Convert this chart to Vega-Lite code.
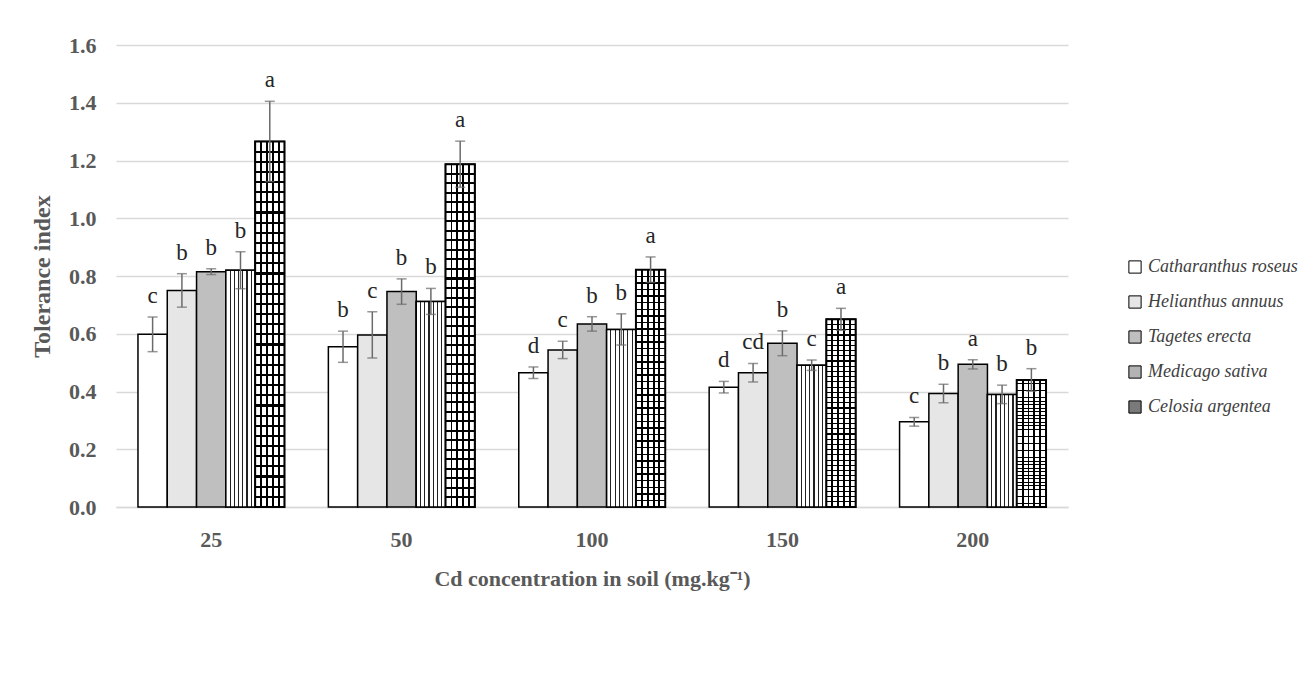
{
  "$schema": "https://vega.github.io/schema/vega-lite/v6.json",
  "width": 952,
  "height": 462,
  "autosize": {"type": "none"},
  "padding": {"left": 116, "top": 45, "right": 242, "bottom": 173},
  "background": "white",
  "config": {
    "view": {"stroke": null},
    "font": "Liberation Serif"
  },
  "data": {
    "values": [
      {"conc": "25", "species": "Catharanthus roseus", "mean": 0.598, "lo": 0.538, "hi": 0.658, "letter": "c"},
      {"conc": "25", "species": "Helianthus annuus", "mean": 0.75, "lo": 0.692, "hi": 0.808, "letter": "b"},
      {"conc": "25", "species": "Tagetes erecta", "mean": 0.815, "lo": 0.805, "hi": 0.825, "letter": "b"},
      {"conc": "25", "species": "Medicago sativa", "mean": 0.82, "lo": 0.756, "hi": 0.884, "letter": "b"},
      {"conc": "25", "species": "Celosia argentea", "mean": 1.266, "lo": 1.127, "hi": 1.405, "letter": "a"},
      {"conc": "50", "species": "Catharanthus roseus", "mean": 0.555, "lo": 0.501, "hi": 0.609, "letter": "b"},
      {"conc": "50", "species": "Helianthus annuus", "mean": 0.596, "lo": 0.516, "hi": 0.676, "letter": "c"},
      {"conc": "50", "species": "Tagetes erecta", "mean": 0.746, "lo": 0.702, "hi": 0.79, "letter": "b"},
      {"conc": "50", "species": "Medicago sativa", "mean": 0.712, "lo": 0.667, "hi": 0.757, "letter": "b"},
      {"conc": "50", "species": "Celosia argentea", "mean": 1.187, "lo": 1.107, "hi": 1.267, "letter": "a"},
      {"conc": "100", "species": "Catharanthus roseus", "mean": 0.465, "lo": 0.445, "hi": 0.485, "letter": "d"},
      {"conc": "100", "species": "Helianthus annuus", "mean": 0.544, "lo": 0.514, "hi": 0.574, "letter": "c"},
      {"conc": "100", "species": "Tagetes erecta", "mean": 0.634, "lo": 0.609, "hi": 0.659, "letter": "b"},
      {"conc": "100", "species": "Medicago sativa", "mean": 0.615, "lo": 0.561, "hi": 0.669, "letter": "b"},
      {"conc": "100", "species": "Celosia argentea", "mean": 0.822, "lo": 0.778, "hi": 0.866, "letter": "a"},
      {"conc": "150", "species": "Catharanthus roseus", "mean": 0.415, "lo": 0.395, "hi": 0.435, "letter": "d"},
      {"conc": "150", "species": "Helianthus annuus", "mean": 0.465, "lo": 0.433, "hi": 0.497, "letter": "cd"},
      {"conc": "150", "species": "Tagetes erecta", "mean": 0.567, "lo": 0.524, "hi": 0.61, "letter": "b"},
      {"conc": "150", "species": "Medicago sativa", "mean": 0.491, "lo": 0.473, "hi": 0.509, "letter": "c"},
      {"conc": "150", "species": "Celosia argentea", "mean": 0.65, "lo": 0.612, "hi": 0.688, "letter": "a"},
      {"conc": "200", "species": "Catharanthus roseus", "mean": 0.295, "lo": 0.28, "hi": 0.31, "letter": "c"},
      {"conc": "200", "species": "Helianthus annuus", "mean": 0.393, "lo": 0.361, "hi": 0.425, "letter": "b"},
      {"conc": "200", "species": "Tagetes erecta", "mean": 0.494, "lo": 0.478, "hi": 0.51, "letter": "a"},
      {"conc": "200", "species": "Medicago sativa", "mean": 0.39, "lo": 0.358, "hi": 0.422, "letter": "b"},
      {"conc": "200", "species": "Celosia argentea", "mean": 0.44, "lo": 0.401, "hi": 0.479, "letter": "b"}
    ]
  },
  "encoding": {
    "x": {
      "field": "conc", "type": "nominal", "sort": ["25", "50", "100", "150", "200"],
      "scale": {"paddingInner": 0, "paddingOuter": 0},
      "axis": {
        "title": "Cd concentration in soil (mg.kg⁻¹)",
        "labelAngle": 0, "labelFont": "Liberation Serif", "labelFontWeight": "bold", "labelFontSize": 22, "labelColor": "#595959",
        "labelPadding": 22, "ticks": false, "domainColor": "#d9d9d9", "domainWidth": 1.5,
        "titleFont": "Liberation Serif", "titleFontWeight": "bold", "titleFontSize": 22, "titleColor": "#595959", "titlePadding": 18
      }
    },
    "xOffset": {
      "field": "species", "type": "nominal",
      "scale": {"domain": ["Catharanthus roseus", "Helianthus annuus", "Tagetes erecta", "Medicago sativa", "Celosia argentea"], "paddingInner": 0, "paddingOuter": 0.75}
    }
  },
  "layer": [
    {
      "mark": {"type": "bar", "stroke": "black", "strokeWidth": 1.5},
      "encoding": {
        "y": {
          "field": "mean", "type": "quantitative",
          "scale": {"domain": [0, 1.6]},
          "axis": {
            "title": "Tolerance index", "values": [0, 0.2, 0.4, 0.6, 0.8, 1.0, 1.2, 1.4, 1.6], "format": ".1f",
            "labelFont": "Liberation Serif", "labelFontWeight": "bold", "labelFontSize": 22, "labelColor": "#595959", "labelPadding": 20,
            "ticks": false, "domain": false, "gridColor": "#d9d9d9", "gridWidth": 1.5,
            "titleFont": "Liberation Serif", "titleFontWeight": "bold", "titleFontSize": 24, "titleColor": "#595959", "titlePadding": 14
          }
        },
        "fill": {
          "field": "species", "type": "nominal",
          "scale": {"domain": ["Catharanthus roseus", "Helianthus annuus", "Tagetes erecta", "Medicago sativa", "Celosia argentea"], "range": ["#ffffff", "#e6e6e6", "#bfbfbf", "#b3b3b3", "#7a7a7a"]},
          "legend": {
            "title": null, "orient": "none", "legendX": 1010, "legendY": 213,
            "symbolType": "square", "symbolSize": 150, "symbolStrokeColor": "black", "symbolStrokeWidth": 1,
            "labelFont": "Liberation Serif", "labelFontStyle": "italic", "labelFontSize": 18, "labelColor": "#404040",
            "labelLimit": 300, "rowPadding": 17, "labelOffset": 4
          }
        }
      }
    },
    {
      "transform": [{"filter": "datum.species === 'Medicago sativa'"}],
      "mark": {
        "type": "bar", "stroke": "black", "strokeWidth": 1.5,
        "fill": {"gradient": "linear", "x1": 0, "y1": 0, "x2": 1, "y2": 0, "stops": [
          {"offset": 0, "color": "#ffffff"}, {"offset": 0.125, "color": "#ffffff"}, {"offset": 0.125, "color": "#222222"}, {"offset": 0.165, "color": "#222222"}, {"offset": 0.165, "color": "#ffffff"},
          {"offset": 0.27, "color": "#ffffff"}, {"offset": 0.27, "color": "#222222"}, {"offset": 0.31, "color": "#222222"}, {"offset": 0.31, "color": "#ffffff"},
          {"offset": 0.415, "color": "#ffffff"}, {"offset": 0.415, "color": "#222222"}, {"offset": 0.455, "color": "#222222"}, {"offset": 0.455, "color": "#ffffff"},
          {"offset": 0.56, "color": "#ffffff"}, {"offset": 0.56, "color": "#222222"}, {"offset": 0.6, "color": "#222222"}, {"offset": 0.6, "color": "#ffffff"},
          {"offset": 0.705, "color": "#ffffff"}, {"offset": 0.705, "color": "#222222"}, {"offset": 0.745, "color": "#222222"}, {"offset": 0.745, "color": "#ffffff"},
          {"offset": 0.85, "color": "#ffffff"}, {"offset": 0.85, "color": "#222222"}, {"offset": 0.89, "color": "#222222"}, {"offset": 0.89, "color": "#ffffff"},
          {"offset": 1, "color": "#ffffff"}
        ]}
      },
      "encoding": {"y": {"field": "mean", "type": "quantitative"}}
    },
    {
      "transform": [{"filter": "datum.species === 'Celosia argentea'"}],
      "mark": {
        "type": "bar", "strokeWidth": 0,
        "fill": {"gradient": "linear", "x1": 0, "y1": 0, "x2": 1, "y2": 0, "stops": [
          {"offset": 0, "color": "#ffffff"}, {"offset": 0.17, "color": "#ffffff"}, {"offset": 0.17, "color": "#000000"}, {"offset": 0.235, "color": "#000000"}, {"offset": 0.235, "color": "#ffffff"},
          {"offset": 0.37, "color": "#ffffff"}, {"offset": 0.37, "color": "#000000"}, {"offset": 0.435, "color": "#000000"}, {"offset": 0.435, "color": "#ffffff"},
          {"offset": 0.57, "color": "#ffffff"}, {"offset": 0.57, "color": "#000000"}, {"offset": 0.635, "color": "#000000"}, {"offset": 0.635, "color": "#ffffff"},
          {"offset": 0.77, "color": "#ffffff"}, {"offset": 0.77, "color": "#000000"}, {"offset": 0.835, "color": "#000000"}, {"offset": 0.835, "color": "#ffffff"},
          {"offset": 1, "color": "#ffffff"}
        ]}
      },
      "encoding": {"y": {"field": "mean", "type": "quantitative"}}
    },
    {
      "transform": [{"filter": "datum.species === 'Celosia argentea'"}],
      "mark": {
        "type": "bar", "stroke": "black", "strokeWidth": 2,
        "fill": {"gradient": "linear", "x1": 0, "y1": 0, "x2": 0, "y2": 1, "stops": [
          {"offset": 0.0248, "color": "rgba(0,0,0,0)"}, {"offset": 0.0248, "color": "#000"}, {"offset": 0.0308, "color": "#000"}, {"offset": 0.0308, "color": "rgba(0,0,0,0)"},
          {"offset": 0.0526, "color": "rgba(0,0,0,0)"}, {"offset": 0.0526, "color": "#000"}, {"offset": 0.0586, "color": "#000"}, {"offset": 0.0586, "color": "rgba(0,0,0,0)"},
          {"offset": 0.0803, "color": "rgba(0,0,0,0)"}, {"offset": 0.0803, "color": "#000"}, {"offset": 0.0863, "color": "#000"}, {"offset": 0.0863, "color": "rgba(0,0,0,0)"},
          {"offset": 0.1081, "color": "rgba(0,0,0,0)"}, {"offset": 0.1081, "color": "#000"}, {"offset": 0.1141, "color": "#000"}, {"offset": 0.1141, "color": "rgba(0,0,0,0)"},
          {"offset": 0.1359, "color": "rgba(0,0,0,0)"}, {"offset": 0.1359, "color": "#000"}, {"offset": 0.1419, "color": "#000"}, {"offset": 0.1419, "color": "rgba(0,0,0,0)"},
          {"offset": 0.1637, "color": "rgba(0,0,0,0)"}, {"offset": 0.1637, "color": "#000"}, {"offset": 0.1697, "color": "#000"}, {"offset": 0.1697, "color": "rgba(0,0,0,0)"},
          {"offset": 0.1914, "color": "rgba(0,0,0,0)"}, {"offset": 0.1914, "color": "#000"}, {"offset": 0.1974, "color": "#000"}, {"offset": 0.1974, "color": "rgba(0,0,0,0)"},
          {"offset": 0.2192, "color": "rgba(0,0,0,0)"}, {"offset": 0.2192, "color": "#000"}, {"offset": 0.2252, "color": "#000"}, {"offset": 0.2252, "color": "rgba(0,0,0,0)"},
          {"offset": 0.247, "color": "rgba(0,0,0,0)"}, {"offset": 0.247, "color": "#000"}, {"offset": 0.253, "color": "#000"}, {"offset": 0.253, "color": "rgba(0,0,0,0)"},
          {"offset": 0.2748, "color": "rgba(0,0,0,0)"}, {"offset": 0.2748, "color": "#000"}, {"offset": 0.2808, "color": "#000"}, {"offset": 0.2808, "color": "rgba(0,0,0,0)"},
          {"offset": 0.3026, "color": "rgba(0,0,0,0)"}, {"offset": 0.3026, "color": "#000"}, {"offset": 0.3086, "color": "#000"}, {"offset": 0.3086, "color": "rgba(0,0,0,0)"},
          {"offset": 0.3303, "color": "rgba(0,0,0,0)"}, {"offset": 0.3303, "color": "#000"}, {"offset": 0.3363, "color": "#000"}, {"offset": 0.3363, "color": "rgba(0,0,0,0)"},
          {"offset": 0.3581, "color": "rgba(0,0,0,0)"}, {"offset": 0.3581, "color": "#000"}, {"offset": 0.3641, "color": "#000"}, {"offset": 0.3641, "color": "rgba(0,0,0,0)"},
          {"offset": 0.3859, "color": "rgba(0,0,0,0)"}, {"offset": 0.3859, "color": "#000"}, {"offset": 0.3919, "color": "#000"}, {"offset": 0.3919, "color": "rgba(0,0,0,0)"},
          {"offset": 0.4137, "color": "rgba(0,0,0,0)"}, {"offset": 0.4137, "color": "#000"}, {"offset": 0.4197, "color": "#000"}, {"offset": 0.4197, "color": "rgba(0,0,0,0)"},
          {"offset": 0.4414, "color": "rgba(0,0,0,0)"}, {"offset": 0.4414, "color": "#000"}, {"offset": 0.4474, "color": "#000"}, {"offset": 0.4474, "color": "rgba(0,0,0,0)"},
          {"offset": 0.4692, "color": "rgba(0,0,0,0)"}, {"offset": 0.4692, "color": "#000"}, {"offset": 0.4752, "color": "#000"}, {"offset": 0.4752, "color": "rgba(0,0,0,0)"},
          {"offset": 0.497, "color": "rgba(0,0,0,0)"}, {"offset": 0.497, "color": "#000"}, {"offset": 0.503, "color": "#000"}, {"offset": 0.503, "color": "rgba(0,0,0,0)"},
          {"offset": 0.5248, "color": "rgba(0,0,0,0)"}, {"offset": 0.5248, "color": "#000"}, {"offset": 0.5308, "color": "#000"}, {"offset": 0.5308, "color": "rgba(0,0,0,0)"},
          {"offset": 0.5526, "color": "rgba(0,0,0,0)"}, {"offset": 0.5526, "color": "#000"}, {"offset": 0.5586, "color": "#000"}, {"offset": 0.5586, "color": "rgba(0,0,0,0)"},
          {"offset": 0.5803, "color": "rgba(0,0,0,0)"}, {"offset": 0.5803, "color": "#000"}, {"offset": 0.5863, "color": "#000"}, {"offset": 0.5863, "color": "rgba(0,0,0,0)"},
          {"offset": 0.6081, "color": "rgba(0,0,0,0)"}, {"offset": 0.6081, "color": "#000"}, {"offset": 0.6141, "color": "#000"}, {"offset": 0.6141, "color": "rgba(0,0,0,0)"},
          {"offset": 0.6359, "color": "rgba(0,0,0,0)"}, {"offset": 0.6359, "color": "#000"}, {"offset": 0.6419, "color": "#000"}, {"offset": 0.6419, "color": "rgba(0,0,0,0)"},
          {"offset": 0.6637, "color": "rgba(0,0,0,0)"}, {"offset": 0.6637, "color": "#000"}, {"offset": 0.6697, "color": "#000"}, {"offset": 0.6697, "color": "rgba(0,0,0,0)"},
          {"offset": 0.6914, "color": "rgba(0,0,0,0)"}, {"offset": 0.6914, "color": "#000"}, {"offset": 0.6974, "color": "#000"}, {"offset": 0.6974, "color": "rgba(0,0,0,0)"},
          {"offset": 0.7192, "color": "rgba(0,0,0,0)"}, {"offset": 0.7192, "color": "#000"}, {"offset": 0.7252, "color": "#000"}, {"offset": 0.7252, "color": "rgba(0,0,0,0)"},
          {"offset": 0.747, "color": "rgba(0,0,0,0)"}, {"offset": 0.747, "color": "#000"}, {"offset": 0.753, "color": "#000"}, {"offset": 0.753, "color": "rgba(0,0,0,0)"},
          {"offset": 0.7748, "color": "rgba(0,0,0,0)"}, {"offset": 0.7748, "color": "#000"}, {"offset": 0.7808, "color": "#000"}, {"offset": 0.7808, "color": "rgba(0,0,0,0)"},
          {"offset": 0.8026, "color": "rgba(0,0,0,0)"}, {"offset": 0.8026, "color": "#000"}, {"offset": 0.8086, "color": "#000"}, {"offset": 0.8086, "color": "rgba(0,0,0,0)"},
          {"offset": 0.8303, "color": "rgba(0,0,0,0)"}, {"offset": 0.8303, "color": "#000"}, {"offset": 0.8363, "color": "#000"}, {"offset": 0.8363, "color": "rgba(0,0,0,0)"},
          {"offset": 0.8581, "color": "rgba(0,0,0,0)"}, {"offset": 0.8581, "color": "#000"}, {"offset": 0.8641, "color": "#000"}, {"offset": 0.8641, "color": "rgba(0,0,0,0)"},
          {"offset": 0.8859, "color": "rgba(0,0,0,0)"}, {"offset": 0.8859, "color": "#000"}, {"offset": 0.8919, "color": "#000"}, {"offset": 0.8919, "color": "rgba(0,0,0,0)"},
          {"offset": 0.9137, "color": "rgba(0,0,0,0)"}, {"offset": 0.9137, "color": "#000"}, {"offset": 0.9197, "color": "#000"}, {"offset": 0.9197, "color": "rgba(0,0,0,0)"},
          {"offset": 0.9414, "color": "rgba(0,0,0,0)"}, {"offset": 0.9414, "color": "#000"}, {"offset": 0.9474, "color": "#000"}, {"offset": 0.9474, "color": "rgba(0,0,0,0)"},
          {"offset": 0.9692, "color": "rgba(0,0,0,0)"}, {"offset": 0.9692, "color": "#000"}, {"offset": 0.9752, "color": "#000"}, {"offset": 0.9752, "color": "rgba(0,0,0,0)"}
        ]}
      },
      "encoding": {"y": {"field": "mean", "type": "quantitative"}}
    },
    {
      "mark": {"type": "rule", "color": "#6b6b6b", "strokeWidth": 1.5},
      "encoding": {
        "y": {"field": "lo", "type": "quantitative"},
        "y2": {"field": "hi"}
      }
    },
    {
      "mark": {"type": "tick", "color": "#6b6b6b", "thickness": 1.5, "size": 10, "orient": "horizontal"},
      "encoding": {"y": {"field": "lo", "type": "quantitative"}}
    },
    {
      "mark": {"type": "tick", "color": "#6b6b6b", "thickness": 1.5, "size": 10, "orient": "horizontal"},
      "encoding": {"y": {"field": "hi", "type": "quantitative"}}
    },
    {
      "mark": {"type": "text", "font": "Liberation Serif", "fontSize": 23, "color": "#262626", "baseline": "middle", "dy": -21},
      "encoding": {
        "y": {"field": "hi", "type": "quantitative"},
        "text": {"field": "letter"}
      }
    }
  ]
}
